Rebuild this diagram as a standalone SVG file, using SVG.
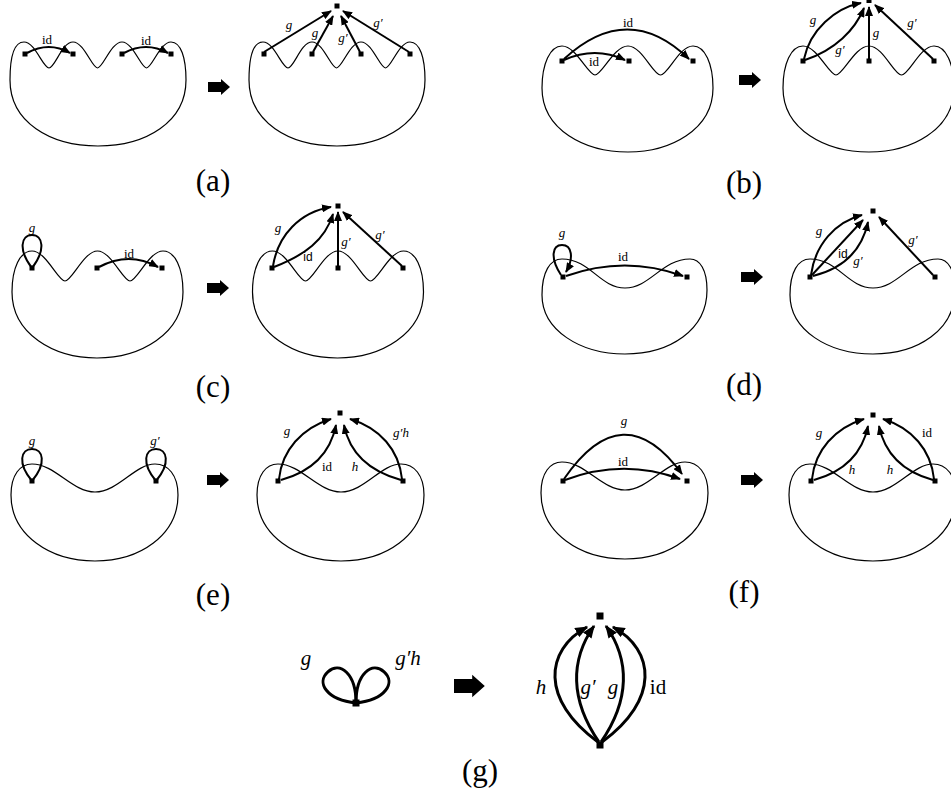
<svg xmlns="http://www.w3.org/2000/svg" xmlns:xlink="http://www.w3.org/1999/xlink" width="951" height="802" viewBox="0 0 951 802">
<style>
.sh{fill:none;stroke:#000;stroke-width:1.2}
.ar{fill:none;stroke:#000;stroke-width:2;marker-end:url(#ah)}
.arL{fill:none;stroke:#000;stroke-width:3;marker-end:url(#ahL)}
.lp{fill:none;stroke:#000;stroke-width:2}
.lpL{fill:none;stroke:#000;stroke-width:3}
.nd{fill:#000}
.lb{font-family:"Liberation Serif",serif;font-size:13px;font-style:italic;text-anchor:middle;fill:#000}
.rm{font-style:normal}
.sa{font-family:"Liberation Sans",sans-serif;font-style:normal;font-size:12px}
.big{font-size:21px}
.cap{font-family:"Liberation Serif",serif;font-size:31px;text-anchor:middle;fill:#000}
</style>
<defs>
<marker id="ah" viewBox="0 0 10 8" markerWidth="10" markerHeight="8" refX="9" refY="4" markerUnits="userSpaceOnUse" orient="auto"><path d="M0,0 L10,4 L0,8 Z"/></marker>
<marker id="ahL" viewBox="0 0 10 8" markerWidth="13" markerHeight="10.4" refX="9" refY="4" markerUnits="userSpaceOnUse" orient="auto"><path d="M0,0 L10,4 L0,8 Z"/></marker>
<path id="blk" d="M0,-5 H13 V-8 L22,0 L13,8 V5 H0 Z"/>
<path id="shA" class="sh" d="M24,42 C35,42 43,68 49,68 C55,68 62,42 73,42 C84,42 92,68 97.5,68 C103,68 111,42 122,42 C133,42 141,68 146.5,68 C152,68 160,42 171,42 C181,42 186,58 186,80 C186,122 146,146 98,146 C50,146 10,122 10,80 C10,58 14,42 24,42 Z"/>
<path id="shB" class="sh" d="M562,46 C576,46 588,75 595,75 C602,75 614,46 628,46 C642,46 653,75 660.5,75 C668,75 679,46 693,46 C705,46 713,64 713,88 C713,130 670,152 628,152 C585,152 542,130 542,88 C542,64 550,46 562,46 Z"/>
<path id="shC" class="sh" d="M32,251 C46,251 58,281 65,281 C72,281 84,251 97.5,251 C111,251 123,281 130,281 C137,281 149,251 163,251 C175,251 183,268 183,292 C183,334 140,358 97,358 C54,358 12,334 12,292 C12,268 20,251 32,251 Z"/>
<path id="shD" class="sh" d="M562,259 C590,259 600,288 625,288 C650,288 662,259 690,259 C700,259 707,270 707,290 C707,330 670,354 625,354 C580,354 542,330 542,295 C542,272 550,259 562,259 Z"/>
<path id="shE" class="sh" d="M32,464 C55,464 72,492 95,492 C118,492 135,464 155,464 C168,464 178,475 178,495 C178,535 140,561 95,561 C50,561 11,535 11,495 C11,475 20,464 32,464 Z"/>
</defs>

<!-- (a) -->
<g id="panel-a">
<use href="#shA"/>
<use href="#shA" transform="translate(239,0)"/>
<g id="a-n1"><rect class="nd" x="22.5" y="51.5" width="5" height="5"/></g>
<g id="a-n2"><rect class="nd" x="70.5" y="51.5" width="5" height="5"/></g>
<g id="a-n3"><rect class="nd" x="119.5" y="51.5" width="5" height="5"/></g>
<g id="a-n4"><rect class="nd" x="168.5" y="51.5" width="5" height="5"/></g>
<g id="a-m1"><rect class="nd" x="261.5" y="51.5" width="5" height="5"/></g>
<g id="a-m2"><rect class="nd" x="309.5" y="51.5" width="5" height="5"/></g>
<g id="a-m3"><rect class="nd" x="358.5" y="51.5" width="5" height="5"/></g>
<g id="a-m4"><rect class="nd" x="407.5" y="51.5" width="5" height="5"/></g>
<g id="a-top"><rect class="nd" x="334.5" y="3.5" width="5" height="5"/></g>
<g id="a-edges">
<path class="ar" d="M27,53 Q49,41 70,53"/>
<path class="ar" d="M124,53 Q146,41 168,53"/>
<path class="ar" d="M264,52 L331,11"/>
<path class="ar" d="M313,52 L333,16"/>
<path class="ar" d="M360,52 L341,16"/>
<path class="ar" d="M409,52 L343,11"/>
</g>
<text class="lb rm" x="47" y="44">id</text>
<text class="lb rm" x="146" y="45">id</text>
<text class="lb" x="289" y="29">g</text>
<text class="lb" x="315" y="37">g</text>
<text class="lb" x="343" y="42">g′</text>
<text class="lb" x="378" y="27">g′</text>
<use href="#blk" transform="translate(208,87)"/>
<text class="cap" x="213" y="191">(a)</text>
</g>

<!-- (b) -->
<g id="panel-b">
<use href="#shB"/>
<use href="#shB" transform="translate(241,0)"/>
<g id="b-n1"><rect class="nd" x="559.5" y="58.5" width="5" height="5"/></g>
<g id="b-n2"><rect class="nd" x="626.5" y="58.5" width="5" height="5"/></g>
<g id="b-n3"><rect class="nd" x="690.5" y="58.5" width="5" height="5"/></g>
<g id="b-m1"><rect class="nd" x="800.5" y="58.5" width="5" height="5"/></g>
<g id="b-m2"><rect class="nd" x="866.5" y="58.5" width="5" height="5"/></g>
<g id="b-m3"><rect class="nd" x="931.5" y="58.5" width="5" height="5"/></g>
<g id="b-top"><rect class="nd" x="866.5" y="-2" width="5" height="5"/></g>
<g id="b-edges">
<path class="ar" d="M564,60 Q595,46 625,60"/>
<path class="ar" d="M564,59 Q628,0 689,59"/>
<path class="ar" d="M804,59 C810,30 835,8 861,3"/>
<path class="ar" d="M805,60 C835,50 855,30 864,8"/>
<path class="ar" d="M869,59 L869,7"/>
<path class="ar" d="M933,59 L875,5"/>
</g>
<text class="lb rm" x="594" y="66">id</text>
<text class="lb rm" x="628" y="27">id</text>
<text class="lb" x="813" y="24">g</text>
<text class="lb" x="840" y="54">g′</text>
<text class="lb" x="876" y="37">g</text>
<text class="lb" x="912" y="27">g′</text>
<use href="#blk" transform="translate(739,80)"/>
<text class="cap" x="744" y="193">(b)</text>
</g>

<!-- (c) -->
<g id="panel-c">
<use href="#shC"/>
<use href="#shC" transform="translate(240.5,0)"/>
<g id="c-n1"><rect class="nd" x="29.5" y="265.5" width="5" height="5"/></g>
<g id="c-n2"><rect class="nd" x="94.5" y="265.5" width="5" height="5"/></g>
<g id="c-n3"><rect class="nd" x="159.5" y="265.5" width="5" height="5"/></g>
<g id="c-m1"><rect class="nd" x="269.5" y="265.5" width="5" height="5"/></g>
<g id="c-m2"><rect class="nd" x="335.5" y="265.5" width="5" height="5"/></g>
<g id="c-m3"><rect class="nd" x="400.5" y="265.5" width="5" height="5"/></g>
<g id="c-top"><rect class="nd" x="335.5" y="203.5" width="5" height="5"/></g>
<g id="c-edges">
<path class="lp" d="M32,268 C18,250 21,235 32,235 C43,235 46,250 32,268"/>
<path class="ar" d="M99,267 Q129,251 158,267"/>
<path class="ar" d="M273,266 C278,235 300,212 331,207"/>
<path class="ar" d="M274,267 C305,255 325,240 333,214"/>
<path class="ar" d="M338,266 L338,212"/>
<path class="ar" d="M402,266 L343,212"/>
</g>
<text class="lb" x="32" y="232">g</text>
<text class="lb rm" x="129" y="258">id</text>
<text class="lb" x="278" y="232">g</text>
<text class="lb sa" x="308" y="261">id</text>
<text class="lb" x="346" y="246">g′</text>
<text class="lb" x="380" y="239">g′</text>
<use href="#blk" transform="translate(207,288)"/>
<text class="cap" x="213" y="397">(c)</text>
</g>

<!-- (d) -->
<g id="panel-d">
<use href="#shD"/>
<use href="#shD" transform="translate(248,0)"/>
<g id="d-n1"><rect class="nd" x="560.5" y="274.5" width="5" height="5"/></g>
<g id="d-n2"><rect class="nd" x="684.5" y="274.5" width="5" height="5"/></g>
<g id="d-m1"><rect class="nd" x="807.5" y="274.5" width="5" height="5"/></g>
<g id="d-m2"><rect class="nd" x="932.5" y="274.5" width="5" height="5"/></g>
<g id="d-top"><rect class="nd" x="870.5" y="208.5" width="5" height="5"/></g>
<g id="d-edges">
<path class="ar" d="M561,275 C550,258 552,245 562,245 C572,245 574,258 566,272"/>
<path class="ar" d="M566,276 Q625,255 683,276"/>
<path class="ar" d="M811,275 C815,245 835,222 862,215"/>
<path class="ar" d="M812,275 L863,220"/>
<path class="ar" d="M813,276 C845,268 862,250 868,222"/>
<path class="ar" d="M933,275 L879,217"/>
</g>
<text class="lb" x="562" y="237">g</text>
<text class="lb rm" x="623" y="261">id</text>
<text class="lb" x="819" y="235">g</text>
<text class="lb sa" x="843" y="258">id</text>
<text class="lb" x="858" y="265">g′</text>
<text class="lb" x="913" y="244">g′</text>
<use href="#blk" transform="translate(741,277)"/>
<text class="cap" x="744" y="395">(d)</text>
</g>

<!-- (e) -->
<g id="panel-e">
<use href="#shE"/>
<use href="#shE" transform="translate(246,0)"/>
<g id="e-n1"><rect class="nd" x="29.5" y="478.5" width="5" height="5"/></g>
<g id="e-n2"><rect class="nd" x="153.5" y="478.5" width="5" height="5"/></g>
<g id="e-m1"><rect class="nd" x="275.5" y="478.5" width="5" height="5"/></g>
<g id="e-m2"><rect class="nd" x="400.5" y="478.5" width="5" height="5"/></g>
<g id="e-top"><rect class="nd" x="337.5" y="410.5" width="5" height="5"/></g>
<g id="e-edges">
<path class="lp" d="M32,481 C17,463 21,449 32,449 C43,449 47,463 32,481"/>
<path class="lp" d="M156,481 C141,463 145,449 156,449 C167,449 171,463 156,481"/>
<path class="ar" d="M279,479 C282,450 302,428 331,419"/>
<path class="ar" d="M281,480 C310,472 330,455 336,425"/>
<path class="ar" d="M401,480 C372,472 350,455 344,425"/>
<path class="ar" d="M402,479 C399,450 380,428 350,419"/>
</g>
<text class="lb" x="32" y="445">g</text>
<text class="lb" x="155" y="445">g′</text>
<text class="lb" x="287" y="435">g</text>
<text class="lb rm" x="327" y="471">id</text>
<text class="lb" x="355" y="471">h</text>
<text class="lb" x="401" y="437">g′h</text>
<use href="#blk" transform="translate(207,480)"/>
<text class="cap" x="213" y="605">(e)</text>
</g>

<!-- (f) -->
<g id="panel-f">
<use href="#shE" transform="translate(530,-2)"/>
<use href="#shE" transform="translate(778,0)"/>
<g id="f-n1"><rect class="nd" x="560.5" y="478.5" width="5" height="5"/></g>
<g id="f-n2"><rect class="nd" x="684.5" y="478.5" width="5" height="5"/></g>
<g id="f-m1"><rect class="nd" x="808.5" y="478.5" width="5" height="5"/></g>
<g id="f-m2"><rect class="nd" x="932.5" y="478.5" width="5" height="5"/></g>
<g id="f-top"><rect class="nd" x="870.5" y="412.5" width="5" height="5"/></g>
<g id="f-edges">
<path class="ar" d="M564,479 Q623,393 682,474"/>
<path class="ar" d="M565,480 Q623,458 680,479"/>
<path class="ar" d="M812,479 C815,450 835,428 864,419"/>
<path class="ar" d="M814,480 C843,472 862,455 868,426"/>
<path class="ar" d="M933,480 C904,472 885,455 879,426"/>
<path class="ar" d="M934,479 C931,450 912,428 883,419"/>
</g>
<text class="lb" x="624" y="425">g</text>
<text class="lb rm" x="623" y="466">id</text>
<text class="lb" x="819" y="437">g</text>
<text class="lb" x="852" y="474">h</text>
<text class="lb" x="890" y="474">h</text>
<text class="lb rm" x="927" y="437">id</text>
<use href="#blk" transform="translate(741,480)"/>
<text class="cap" x="744" y="602">(f)</text>
</g>

<!-- (g) -->
<g id="panel-g">
<g id="g-n1"><rect class="nd" x="352.5" y="699.5" width="7" height="7"/></g>
<g id="g-top"><rect class="nd" x="596.5" y="612.5" width="7" height="7"/></g>
<g id="g-bot"><rect class="nd" x="596.5" y="741.5" width="7" height="7"/></g>
<g id="g-edges">
<path class="lpL" transform="translate(356,703) rotate(-42)" d="M0,0 C-20,-22 -16,-42 0,-42 C16,-42 20,-22 0,0"/>
<path class="lpL" transform="translate(356,703) rotate(42)" d="M0,0 C-20,-22 -16,-42 0,-42 C16,-42 20,-22 0,0"/>
<path class="arL" d="M598,742 C540,700 545,650 587,627"/>
<path class="arL" d="M599,742 C570,700 570,660 594,626"/>
<path class="arL" d="M601,742 C630,700 630,660 606,626"/>
<path class="arL" d="M602,742 C660,700 655,650 613,627"/>
</g>
<text class="lb big" x="306" y="665">g</text>
<text class="lb big" x="408" y="665">g′h</text>
<text class="lb big" x="541" y="694">h</text>
<text class="lb big" x="588" y="694">g′</text>
<text class="lb big" x="613" y="694">g</text>
<text class="lb big rm" x="658" y="694">id</text>
<use href="#blk" transform="translate(454,686) scale(1.4)"/>
<text class="cap" x="480" y="781">(g)</text>
</g>
</svg>
